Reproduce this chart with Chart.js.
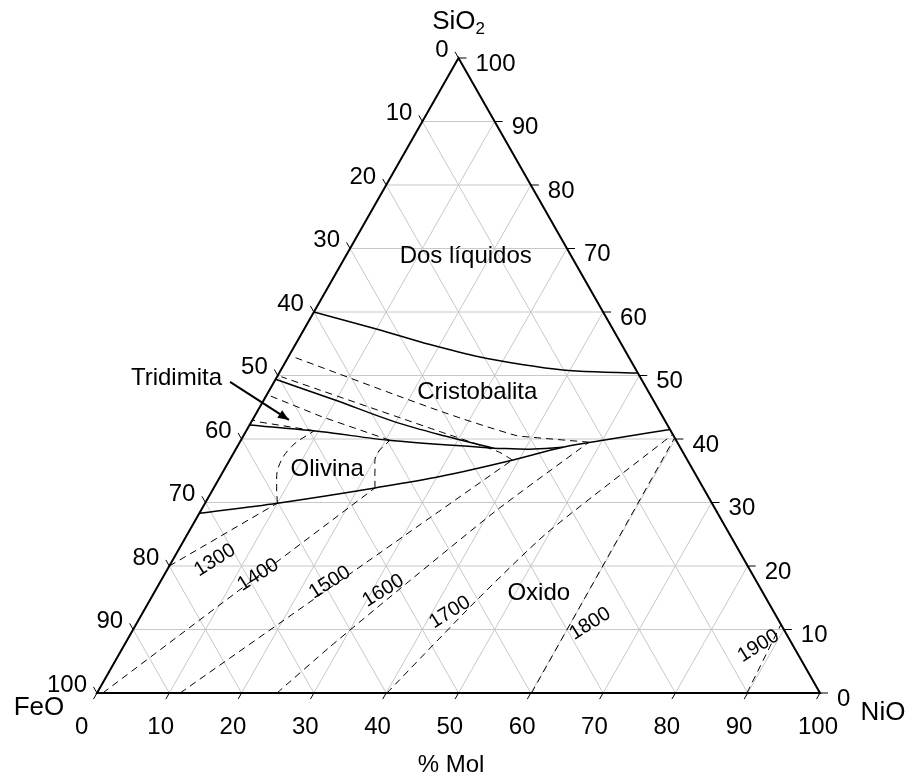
<!DOCTYPE html>
<html>
<head>
<meta charset="utf-8">
<script src="https://cdn.jsdelivr.net/npm/chart.js@4.4.0/dist/chart.umd.min.js"></script>
<style>
  html, body { margin: 0; padding: 0; background: #fff; }
  canvas { display: block; }
</style>
</head>
<body>
<canvas id="ternary" width="913" height="778"></canvas>
<script>
// Every point is [NiO %, SiO2 %]; FeO is whatever is left.
const tickValues = [0, 10, 20, 30, 40, 50, 60, 70, 80, 90, 100];
const gridSteps = [10, 20, 30, 40, 50, 60, 70, 80, 90];

// solid phase boundaries
const liquidGapNiO = [0, 10.56, 18.62, 26.5, 32.9, 39.0, 44.3, 49.5];
const liquidGapSiO2 = [60, 57.17, 54.88, 52.91, 51.73, 50.87, 50.55, 50.4];
const tridymiteNiO = [0, 9.85, 19.85, 27.9, 35.6];
const tridymiteSiO2 = [49.4, 46.14, 42.7, 40.47, 38.55];
const olivineTopNiO = [0, 10.5, 20.4, 35.6];
const olivineTopSiO2 = [42.2, 41.15, 39.8, 38.55];
const silicaEdgeNiO = [35.6, 40.7, 45.1];
const silicaEdgeSiO2 = [38.55, 38.4, 38.7];
const oxideEdgeNiO = [0, 10, 22.3, 30.4, 39.2, 45.1, 50.1, 58.5];
const oxideEdgeSiO2 = [28.3, 29.9, 32.3, 34.1, 36.7, 38.7, 39.8, 41.5];

// isotherms (dashed), split where they bend on a boundary
const iso1300LowNiO = [0, 10];
const iso1300LowSiO2 = [20, 29.9];
const iso1300ArcNiO = [10, 8.6, 7.3, 7.5, 9.4];
const iso1300ArcSiO2 = [29.9, 32.5, 35.6, 38.8, 41.3];
const iso1300TopNiO = [9.4, 1, 0];
const iso1300TopSiO2 = [41.3, 42.7, 43];

const iso1400LowNiO = [0.8, 22.3];
const iso1400LowSiO2 = [0, 32.3];
const iso1400ArcNiO = [22.3, 20.9, 19.9, 20.6];
const iso1400ArcSiO2 = [32.3, 35.1, 37.5, 39.8];
const iso1400TopNiO = [20.6, 9.35, 0];
const iso1400TopSiO2 = [39.8, 43.5, 47];

const iso1500LowNiO = [11.5, 39.1];
const iso1500LowSiO2 = [0, 36.7];
const iso1500TopNiO = [39.1, 36.5, 26.9, 0.6];
const iso1500TopSiO2 = [36.7, 38.0, 41.15, 49.8];

const iso1600LowNiO = [24.9, 28.6, 34.2, 40.9, 48.3];
const iso1600LowSiO2 = [0, 7.3, 17.3, 28.8, 39.5];
const iso1600TopNiO = [48.3, 39.75, 37.5, 25.24, 0.5];
const iso1600TopSiO2 = [39.5, 40.3, 40.6, 44.4, 53];

const iso1700NiO = [40.1, 45.2, 49.6, 59.2];
const iso1700SiO2 = [0, 14.6, 25.15, 40.6];
const iso1800NiO = [60.1, 59.8];
const iso1800SiO2 = [0, 40.1];
const iso1900NiO = [89.9, 89.2];
const iso1900SiO2 = [0, 10.8];

const isoNames = ['1300', '1400', '1500', '1600', '1700', '1800', '1900'];
const isoLabelNiO = [5.85, 13.0, 23.5, 31.55, 42.45, 62.75, 87.8];
const isoLabelSiO2 = [20.9, 18.6, 17.4, 16.1, 12.7, 10.9, 7.4];

const fieldNames = ['Dos líquidos', 'Cristobalita', 'Olivina', 'Oxido'];
const fieldNiO = [16.6, 28.9, 14.25, 53.25];
const fieldSiO2 = [68.8, 47.4, 35.2, 15.7];

// Tridimita pointer
const pointerNiO = [-6.1, 5.05];
const pointerSiO2 = [49, 43];

const FONT = '"Liberation Sans", Arial, sans-serif';

const tern = (n, s) => ({ x: n + s / 2, y: s });
const toPoints = (nio, sio2) => nio.map((n, i) => tern(n, sio2[i]));

function lineSet(nio, sio2, extra) {
  return Object.assign({
    data: toPoints(nio, sio2),
    borderColor: '#000',
    borderWidth: 1.5,
    pointRadius: 0,
    fill: false,
    tension: 0,
    clip: false,
    order: 0
  }, extra);
}

const gridStyle = { borderColor: '#c8c8c8', borderWidth: 1, order: 10 };
const dash = { borderWidth: 1, borderDash: [7, 5] };

const datasets = [];
gridSteps.forEach(k => {
  datasets.push(lineSet([0, 100 - k], [k, k], gridStyle));
  datasets.push(lineSet([k, k], [0, 100 - k], gridStyle));
  datasets.push(lineSet([100 - k, 0], [0, 100 - k], gridStyle));
});

datasets.push(
  lineSet(iso1300LowNiO, iso1300LowSiO2, dash),
  lineSet(iso1300ArcNiO, iso1300ArcSiO2, { ...dash, tension: 0.4 }),
  lineSet(iso1300TopNiO, iso1300TopSiO2, dash),
  lineSet(iso1400LowNiO, iso1400LowSiO2, dash),
  lineSet(iso1400ArcNiO, iso1400ArcSiO2, { ...dash, tension: 0.4 }),
  lineSet(iso1400TopNiO, iso1400TopSiO2, dash),
  lineSet(iso1500LowNiO, iso1500LowSiO2, dash),
  lineSet(iso1500TopNiO, iso1500TopSiO2, { ...dash, tension: 0.2 }),
  lineSet(iso1600LowNiO, iso1600LowSiO2, { ...dash, tension: 0.2 }),
  lineSet(iso1600TopNiO, iso1600TopSiO2, { ...dash, tension: 0.3 }),
  lineSet(iso1700NiO, iso1700SiO2, { ...dash, tension: 0.2 }),
  lineSet(iso1800NiO, iso1800SiO2, dash),
  lineSet(iso1900NiO, iso1900SiO2, dash)
);

datasets.push(
  lineSet(liquidGapNiO, liquidGapSiO2, { cubicInterpolationMode: 'monotone' }),
  lineSet(tridymiteNiO, tridymiteSiO2, { cubicInterpolationMode: 'monotone' }),
  lineSet(olivineTopNiO, olivineTopSiO2, { tension: 0.3 }),
  lineSet(silicaEdgeNiO, silicaEdgeSiO2, { tension: 0.3 }),
  lineSet(oxideEdgeNiO, oxideEdgeSiO2, { cubicInterpolationMode: 'monotone' }),
  lineSet(pointerNiO, pointerSiO2, { borderWidth: 2 }),
  lineSet([0, 100, 0, 0, 100], [0, 0, 100, 0, 0], { borderWidth: 2, borderJoinStyle: 'miter' })
);

// ticks, numbers and names drawn over the data
const ternaryText = {
  id: 'ternaryText',
  afterDatasetsDraw(chart) {
    const { ctx, scales: { x, y } } = chart;
    const px = (n, s) => [x.getPixelForValue(n + s / 2), y.getPixelForValue(s)];
    ctx.save();
    ctx.strokeStyle = '#000';
    ctx.fillStyle = '#000';
    ctx.lineWidth = 1;
    ctx.font = '24px ' + FONT;
    ctx.textBaseline = 'middle';

    tickValues.forEach(k => {
      // bottom: NiO
      let [bx, by] = px(k, 0);
      ctx.beginPath(); ctx.moveTo(bx, by); ctx.lineTo(bx - 3.5, by + 6.1); ctx.stroke();
      ctx.textAlign = 'left';
      ctx.fillText(String(k), bx - 22, by + 34);
      // left: FeO
      let [lx, ly] = px(0, 100 - k);
      ctx.beginPath(); ctx.moveTo(lx, ly); ctx.lineTo(lx - 3.5, ly - 6.1); ctx.stroke();
      ctx.textAlign = 'right';
      ctx.fillText(String(k), lx - 10, ly - 8);
      // right: SiO2
      let [rx, ry] = px(100 - k, k);
      ctx.beginPath(); ctx.moveTo(rx, ry); ctx.lineTo(rx + 8, ry); ctx.stroke();
      ctx.textAlign = 'left';
      ctx.fillText(String(k), rx + 17, ry + 6);
    });

    // isotherm labels
    ctx.font = '20px ' + FONT;
    ctx.textAlign = 'center';
    isoNames.forEach((t, i) => {
      const [tx, ty] = px(isoLabelNiO[i], isoLabelSiO2[i]);
      ctx.save();
      ctx.translate(tx, ty);
      ctx.rotate(-32 * Math.PI / 180);
      ctx.fillText(t, 0, 0);
      ctx.restore();
    });

    // phase fields
    ctx.font = '24px ' + FONT;
    fieldNames.forEach((t, i) => {
      const [tx, ty] = px(fieldNiO[i], fieldSiO2[i]);
      ctx.fillText(t, tx, ty);
    });

    // Tridimita with its arrow head
    const [ax, ay] = px(pointerNiO[0], pointerSiO2[0]);
    const [hx, hy] = px(pointerNiO[1], pointerSiO2[1]);
    ctx.textAlign = 'right';
    ctx.fillText('Tridimita', ax - 8, ay - 3);
    const ang = Math.atan2(hy - ay, hx - ax);
    ctx.beginPath();
    ctx.moveTo(hx, hy);
    ctx.lineTo(hx - 11 * Math.cos(ang) + 4.5 * Math.sin(ang), hy - 11 * Math.sin(ang) - 4.5 * Math.cos(ang));
    ctx.lineTo(hx - 11 * Math.cos(ang) - 4.5 * Math.sin(ang), hy - 11 * Math.sin(ang) + 4.5 * Math.cos(ang));
    ctx.closePath();
    ctx.fill();

    // vertex names and axis title
    const [fx, fy] = px(0, 0);
    const [nx, ny] = px(100, 0);
    const [sx, sy] = px(0, 100);
    ctx.font = '26px ' + FONT;
    ctx.textAlign = 'center';
    ctx.fillText('FeO', fx - 58, fy + 15);
    ctx.fillText('NiO', nx + 63, ny + 20);
    ctx.textAlign = 'right';
    ctx.fillText('SiO', sx + 17, sy - 36);
    ctx.font = '17px ' + FONT;
    ctx.textAlign = 'left';
    ctx.fillText('2', sx + 17, sy - 29);
    ctx.font = '24px ' + FONT;
    ctx.textAlign = 'center';
    ctx.fillText('% Mol', fx + 354, fy + 72);
    ctx.restore();
  }
};

new Chart(document.getElementById('ternary').getContext('2d'), {
  type: 'line',
  data: { datasets },
  options: {
    responsive: false,
    devicePixelRatio: 1,
    animation: false,
    events: [],
    layout: { padding: { left: 97, right: 93, top: 58, bottom: 85 } },
    scales: {
      x: { type: 'linear', min: 0, max: 100, display: false },
      y: { type: 'linear', min: 0, max: 100, display: false }
    },
    plugins: { legend: { display: false }, tooltip: { enabled: false } }
  },
  plugins: [ternaryText]
});
</script>
</body>
</html>
